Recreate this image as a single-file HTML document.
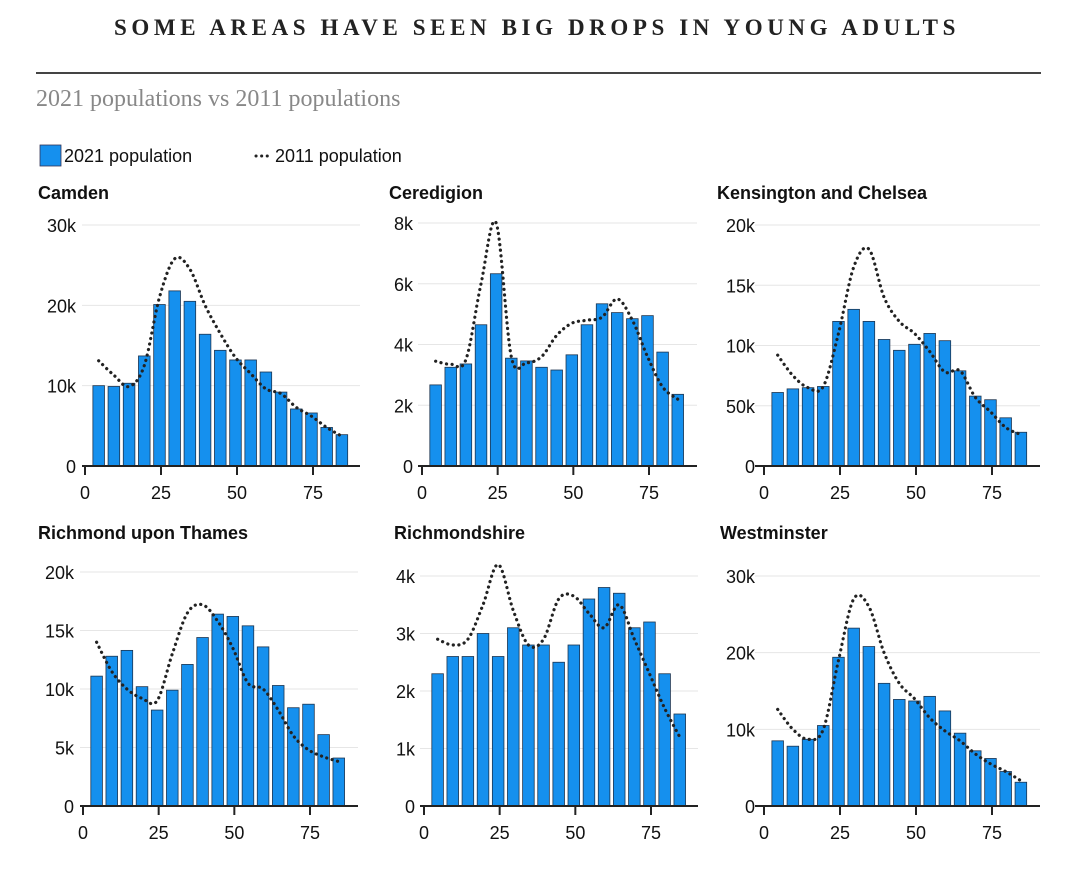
<!DOCTYPE html>
<html><head><meta charset="utf-8"><style>
body{margin:0;background:#fff;width:1080px;height:880px;overflow:hidden;}
svg text{font-family:"Liberation Sans","DejaVu Sans",sans-serif;}
</style></head><body>
<svg id="c" width="1080" height="880" xmlns="http://www.w3.org/2000/svg">
<text x="537" y="35" text-anchor="middle" style="font-family:'Liberation Serif',serif;font-weight:bold;font-size:23px;letter-spacing:4.6px;fill:#222">SOME AREAS HAVE SEEN BIG DROPS IN YOUNG ADULTS</text>
<rect x="36" y="72" width="1005" height="2" fill="#444"/>
<text x="36" y="106" style="font-family:'Liberation Serif',serif;font-size:24px;fill:#888">2021 populations vs 2011 populations</text>
<g>
<rect x="40" y="145" width="21" height="21" fill="#1590ee" stroke="#335" stroke-width="0.8"/>
<text x="64" y="162" style="font-size:18px;fill:#111">2021 population</text>
<line x1="256" y1="156" x2="272" y2="156" stroke="#222" stroke-width="3" stroke-dasharray="0.1,5.5" stroke-linecap="round"/>
<text x="275" y="162" style="font-size:18px;fill:#111">2011 population</text>
</g>
</svg>
<script>
const ages=[4.5,9.5,14.5,19.5,24.5,29.5,34.5,39.5,44.5,49.5,54.5,59.5,64.5,69.5,74.5,79.5,84.5];
const xTicks=[0,25,50,75];
const names=["Camden","Ceredigion","Kensington and Chelsea","Richmond upon Thames","Richmondshire","Westminster"];
const camden2021=[10,9.9,10.3,13.7,20.1,21.8,20.5,16.4,14.4,13.2,13.2,11.7,9.2,7.1,6.6,4.8,3.9];
const camden2011=[13.1,11.3,9.9,12.5,21,25.8,24.5,20,16.5,13.5,11.5,9.6,9,7.3,6.2,4.8,3.7];
const ceredigion2021=[2.67,3.25,3.36,4.65,6.33,3.55,3.46,3.25,3.16,3.66,4.65,5.34,5.05,4.85,4.95,3.75,2.36];
const ceredigion2011=[3.45,3.35,3.5,6.0,8.0,3.6,3.4,3.6,4.3,4.7,4.8,4.9,5.5,4.8,3.6,2.6,2.2];
const kensington2021=[6.1,6.4,6.5,6.6,12.0,13.0,12.0,10.5,9.6,10.1,11.0,10.4,7.9,5.8,5.5,4.0,2.8];
const kensington2011=[9.2,7.5,6.5,6.6,11,16.5,18,14,12,11,9.5,7.8,7.9,5.7,4.5,3.2,2.6];
const richmondT2021=[11.1,12.8,13.3,10.2,8.2,9.9,12.1,14.4,16.4,16.2,15.4,13.6,10.3,8.4,8.7,6.1,4.1];
const richmondT2011=[14.0,11.5,10.0,9.2,9.0,13.0,16.5,17.2,15.8,13.5,10.5,10.0,8.2,6.0,4.8,4.2,3.8];
const richmondshire2021=[2.3,2.6,2.6,3.0,2.6,3.1,2.8,2.8,2.5,2.8,3.6,3.8,3.7,3.1,3.2,2.3,1.6];
const richmondshire2011=[2.9,2.8,2.9,3.5,4.2,3.4,2.8,2.9,3.6,3.65,3.35,3.1,3.5,2.9,2.3,1.7,1.2];
const westminster2021=[8.5,7.8,8.7,10.5,19.4,23.2,20.8,16.0,13.9,13.7,14.3,12.4,9.5,7.2,6.2,4.5,3.1];
const westminster2011=[12.6,10.0,8.7,10.0,19.0,27.0,26.0,20.0,16.0,14.0,11.5,9.8,8.5,6.8,5.5,4.5,3.3];
const yTickVals=[[0,10,20,30],[0,2,4,6,8],[0,5,10,15,20],[0,5,10,15,20],[0,1,2,3,4],[0,10,20,30]];
const yTickLabels=[["0","10k","20k","30k"],["0","2k","4k","6k","8k"],["0","50k","10k","15k","20k"],["0","5k","10k","15k","20k"],["0","1k","2k","3k","4k"],["0","10k","20k","30k"]];
const bars=[camden2021,ceredigion2021,kensington2021,richmondT2021,richmondshire2021,westminster2021];
const lines=[camden2011,ceredigion2011,kensington2011,richmondT2011,richmondshire2011,westminster2011];
// layout (pixel geometry, not data)
const L=[
 {x0:85,x75:313,y0:466,yTop:225,tx:38,ty:199,gx:82,gx2:360},
 {x0:422,x75:649,y0:466,yTop:223,tx:389,ty:199,gx:418,gx2:697},
 {x0:764,x75:992,y0:466,yTop:225,tx:717,ty:199,gx:755,gx2:1040},
 {x0:83,x75:310,y0:806,yTop:572,tx:38,ty:539,gx:80,gx2:358},
 {x0:424,x75:651,y0:806,yTop:576,tx:394,ty:539,gx:420,gx2:698},
 {x0:764,x75:992,y0:806,yTop:576,tx:720,ty:539,gx:755,gx2:1040}];
const NS="http://www.w3.org/2000/svg",svg=document.getElementById('c');
function mk(t,a,p){const e=document.createElementNS(NS,t);for(const k in a)e.setAttribute(k,a[k]);(p||svg).appendChild(e);return e;}
function crPath(pts){let d="M"+pts[0][0]+","+pts[0][1];for(let i=0;i<pts.length-1;i++){const p0=pts[i-1]||pts[i],p1=pts[i],p2=pts[i+1],p3=pts[i+2]||p2;
 const c1=[p1[0]+(p2[0]-p0[0])/6,p1[1]+(p2[1]-p0[1])/6],c2=[p2[0]-(p3[0]-p1[0])/6,p2[1]-(p3[1]-p1[1])/6];
 d+=" C"+c1+" "+c2+" "+p2;}return d;}
for(let p=0;p<6;p++){
 const g=L[p];const tv=yTickVals[p];const ymax=tv[tv.length-1];
 const xs=a=>g.x0+(a/75)*(g.x75-g.x0);
 const ys=v=>g.y0-(v/ymax)*(g.y0-g.yTop);
 const grp=mk('g',{});
 
 
 const t=mk('text',{x:g.tx,y:g.ty,'font-size':18,'font-weight':'bold',fill:'#111'},grp);t.textContent=names[p];
 
 
 tv.forEach((v,i)=>{
  if(v>0){const gl=mk('line',{x1:g.gx,x2:g.gx2,y1:ys(v),y2:ys(v),stroke:'#e6e6e6','stroke-width':1},grp);
   
   }
  const tl=mk('text',{x:g.x0-9,y:ys(v)+7,'text-anchor':'end','font-size':18,fill:'#111'},grp);tl.textContent=yTickLabels[p][i];
  
  
 });
 bars[p].forEach((v,i)=>{
  const cx=xs(ages[i]);const r=mk('rect',{x:cx-5.8,y:ys(v),width:11.6,height:g.y0-ys(v),fill:'#1590ee',stroke:'#1d3550','stroke-width':0.8},grp);
  
  
 });
 const ln=mk('path',{d:crPath(lines[p].map((v,i)=>[xs(ages[i]),ys(v)])),fill:'none',stroke:'#222','stroke-width':3.2,'stroke-dasharray':'0.1,5.5','stroke-linecap':'round'},grp);
 
 
 const ax=mk('line',{x1:g.gx,x2:g.gx2,y1:g.y0,y2:g.y0,stroke:'#222','stroke-width':2},grp);
 
 
 xTicks.forEach(a=>{
  const tk=mk('line',{x1:xs(a),x2:xs(a),y1:g.y0,y2:g.y0+9,stroke:'#222','stroke-width':2},grp);
  
  
  const xl=mk('text',{x:xs(a),y:g.y0+33,'text-anchor':'middle','font-size':18,fill:'#111'},grp);xl.textContent=a;
  
  
 });
}
</script>
</body></html>
